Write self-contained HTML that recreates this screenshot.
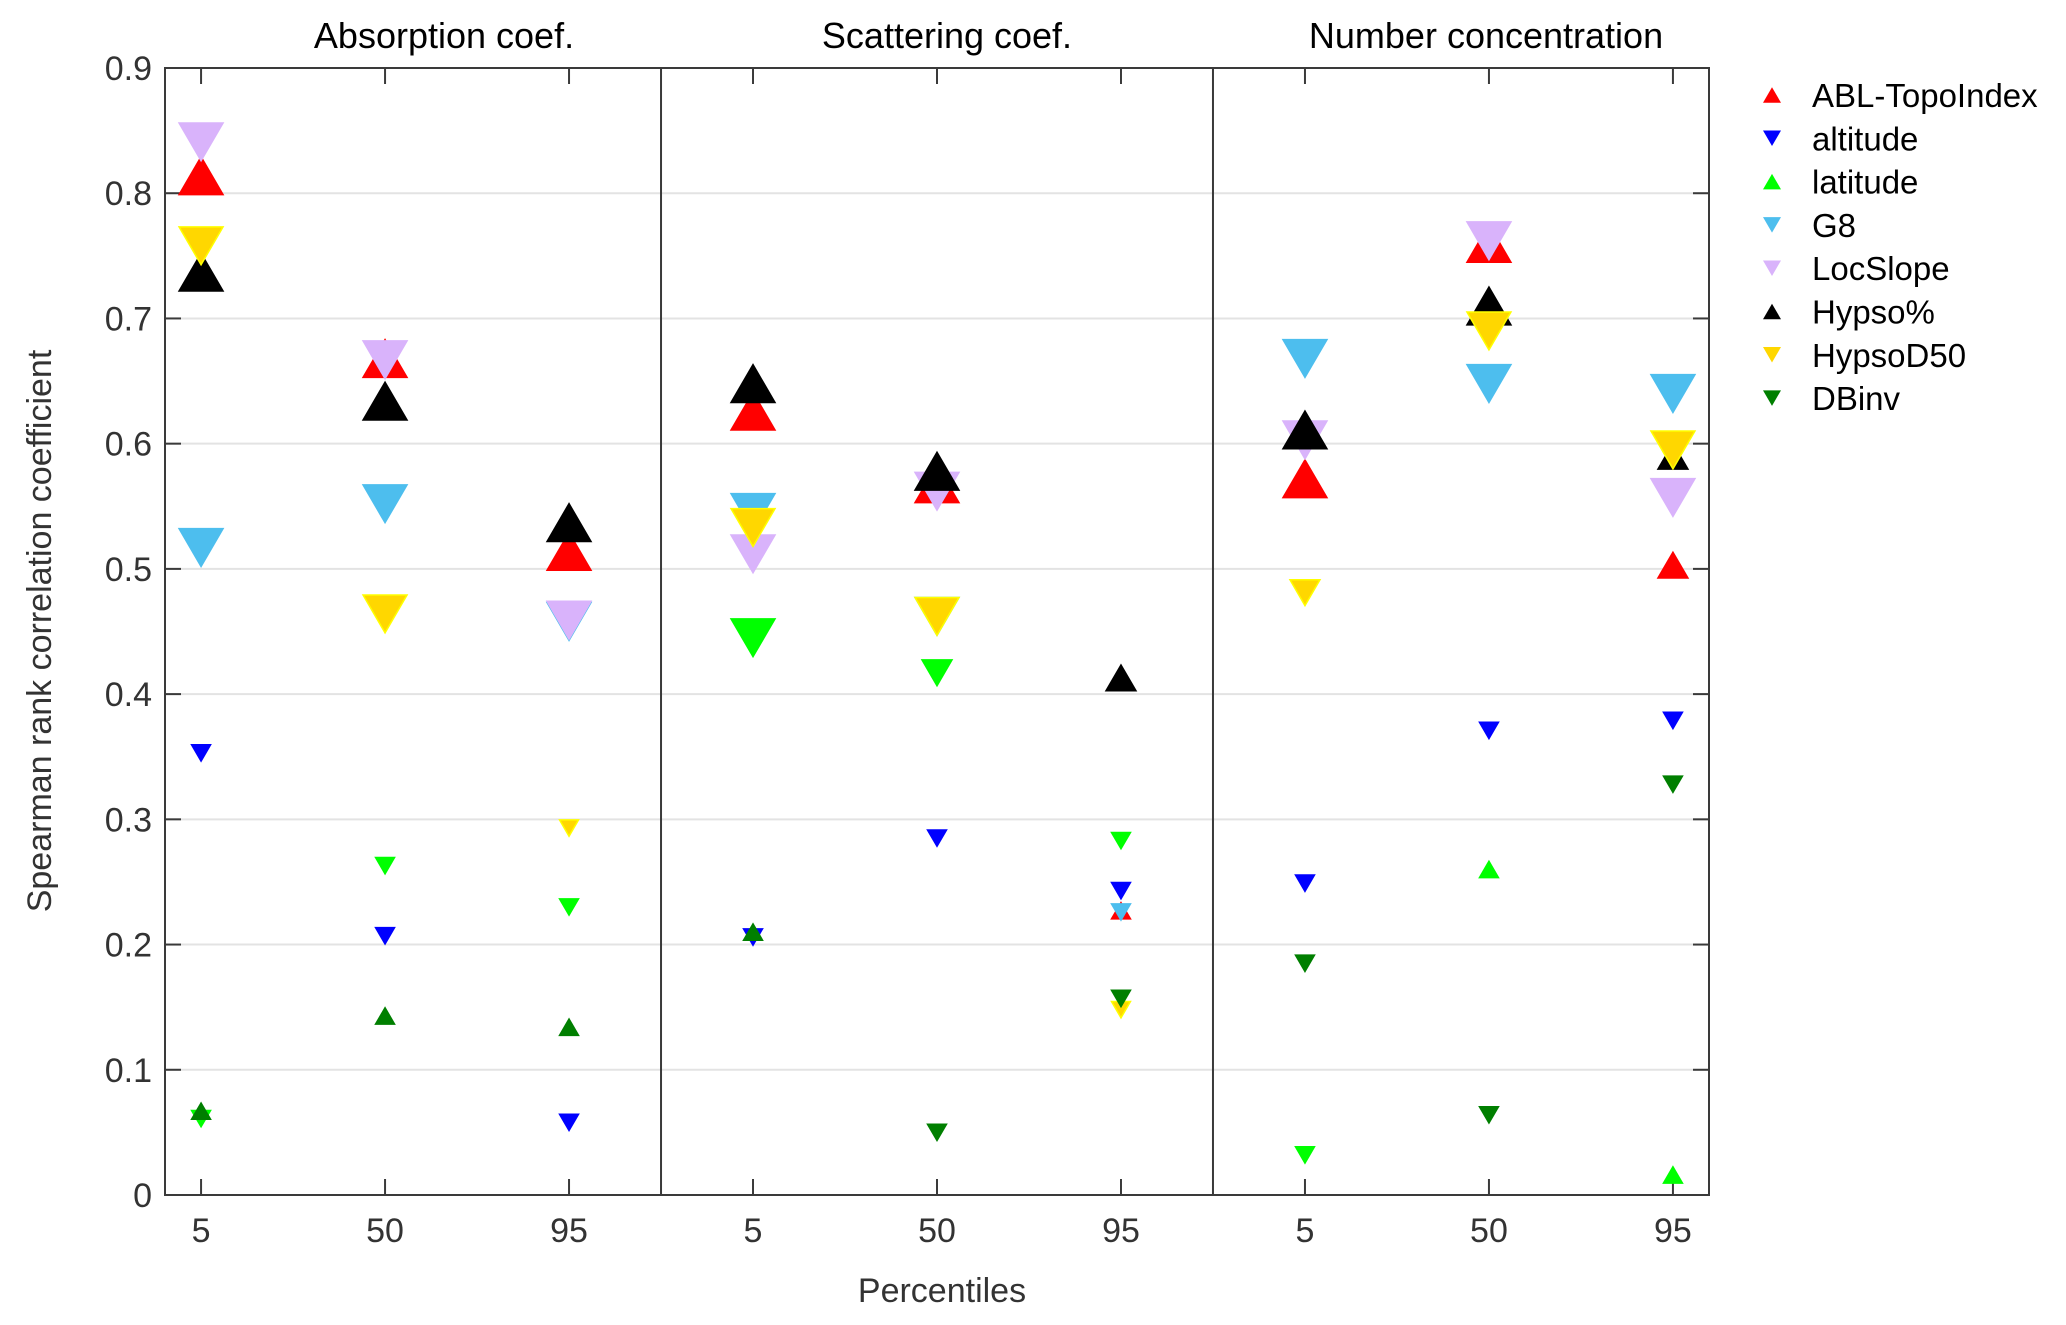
<!DOCTYPE html>
<html><head><meta charset="utf-8"><style>
html,body{margin:0;padding:0;background:#fff;}
svg{display:block;font-family:"Liberation Sans",Arial,sans-serif;}
</style></head><body>
<svg id="chart" width="2066" height="1325" viewBox="0 0 2066 1325" xmlns="http://www.w3.org/2000/svg">
<g id="grid"></g>
<g id="axes"></g>
<g id="marks"></g>
<g id="legend"></g>
</svg>
<script>
const xTickLabels = ["5","50","95","5","50","95","5","50","95"];
const panelTitles = ["Absorption coef.","Scattering coef.","Number concentration"];
const yTicks = [0,0.1,0.2,0.3,0.4,0.5,0.6,0.7,0.8,0.9];
const seriesNames = ["ABL-TopoIndex","altitude","latitude","G8","LocSlope","Hypso%","HypsoD50","DBinv"];
const seriesColors = ["#ff0000","#0000ff","#00ff00","#4dbeee","#d9b3fb","#000000","#ffd700","#007f00"];
const legendDir = [1,-1,1,-1,-1,1,-1,-1];
// values per series at the 9 x positions (null = no marker)
const vABL      = [0.814,0.668,0.514,0.626,0.568,0.227,0.572,0.760,0.503];
const vAltitude = [0.353,0.207,0.058,0.206,0.285,0.243,0.249,0.371,0.379];
const vLatitude = [0.061,0.263,0.230,0.445,0.417,0.283,0.032,0.260,0.016];
const vG8       = [0.517,0.552,0.458,0.545,0.462,0.226,0.668,0.648,0.640];
const vLocSlope = [0.841,0.667,0.459,0.512,0.562,null,0.603,0.762,0.557];
const vHypso    = [0.737,0.634,0.537,0.648,0.578,0.413,0.611,0.710,0.590];
const vHypsoD50 = [0.758,0.464,0.293,0.533,0.462,0.148,0.481,0.690,0.595];
const vDBinv    = [0.067,0.143,0.134,0.210,0.050,0.157,0.185,0.064,0.328];
// marker direction: 1 = up triangle, -1 = down triangle
const dABL      = [1,1,1,1,1,1,1,1,1];
const dAltitude = [-1,-1,-1,-1,-1,-1,-1,-1,-1];
const dLatitude = [-1,-1,-1,-1,-1,-1,-1,1,1];
const dG8       = [-1,-1,-1,-1,-1,-1,-1,-1,-1];
const dLocSlope = [-1,-1,-1,-1,-1,-1,-1,-1,-1];
const dHypso    = [1,1,1,1,1,1,1,1,1];
const dHypsoD50 = [-1,-1,-1,-1,-1,-1,-1,-1,-1];
const dDBinv    = [1,1,1,1,-1,-1,-1,-1,-1];
// marker size class: 2 = large, 1 = medium, 0 = small
const sABL      = [2,2,2,2,2,0,2,2,1];
const sAltitude = [0,0,0,0,0,0,0,0,0];
const sLatitude = [0,0,0,2,1,0,0,0,0];
const sG8       = [2,2,2,2,2,0,2,2,2];
const sLocSlope = [2,2,2,2,2,0,2,2,2];
const sHypso    = [2,2,2,2,2,1,2,2,1];
const sHypsoD50 = [2,2,0,2,2,0,1,2,2];
const sDBinv    = [0,0,0,0,0,0,0,0,0];

const allV=[vABL,vAltitude,vLatitude,vG8,vLocSlope,vHypso,vHypsoD50,vDBinv];
const allD=[dABL,dAltitude,dLatitude,dG8,dLocSlope,dHypso,dHypsoD50,dDBinv];
const allS=[sABL,sAltitude,sLatitude,sG8,sLocSlope,sHypso,sHypsoD50,sDBinv];

const NS="http://www.w3.org/2000/svg";
const L=165,R=1709,T=68,B=1195;
const xMin=0.804,xMax=9.196,yMin=0,yMax=0.9;
const AX='#3a3a3a';
function xs(i){return L+(i-xMin)/(xMax-xMin)*(R-L);}
function ys(v){return B-(v-yMin)/(yMax-yMin)*(B-T);}
function mk(tag,attrs,parent){const e=document.createElementNS(NS,tag);for(const k in attrs)e.setAttribute(k,attrs[k]);parent.appendChild(e);return e;}
const grid=document.getElementById('grid'),axes=document.getElementById('axes'),marks=document.getElementById('marks'),legend=document.getElementById('legend');

yTicks.forEach(t=>{
  if(t>yMin&&t<yMax){const g=mk('line',{x1:L,x2:R,y1:ys(t),y2:ys(t),stroke:'#e3e3e3','stroke-width':2},grid);
  
  }
  const tl=mk('line',{x1:L,x2:L+16,y1:ys(t),y2:ys(t),stroke:AX,'stroke-width':2},axes);
  
  
  const tr=mk('line',{x1:R-16,x2:R,y1:ys(t),y2:ys(t),stroke:AX,'stroke-width':2},axes);
  
  
  const tx=mk('text',{x:152,y:ys(t)+12,'text-anchor':'end','font-size':34,fill:'#333'},axes);
  tx.textContent=String(t);
  
  
});
xTickLabels.forEach((lab,i)=>{
  const x=xs(i+1);
  const a=mk('line',{x1:x,x2:x,y1:B,y2:B-16,stroke:AX,'stroke-width':2},axes);
  
  
  const b=mk('line',{x1:x,x2:x,y1:T,y2:T+16,stroke:AX,'stroke-width':2},axes);
  
  
  const tx=mk('text',{x:x,y:1242,'text-anchor':'middle','font-size':34,fill:'#333'},axes);
  tx.textContent=lab;
  
  
});
[3.5,6.5].forEach(p=>{
  const s=mk('line',{x1:xs(p),x2:xs(p),y1:T,y2:B,stroke:AX,'stroke-width':2},axes);
  
  
});
const box=mk('rect',{x:L,y:T,width:R-L,height:B-T,fill:'none',stroke:AX,'stroke-width':2},axes);


const titleX=[444,947,1486];
panelTitles.forEach((t,k)=>{
  const tx=mk('text',{x:titleX[k],y:48,'text-anchor':'middle','font-size':36,fill:'#000'},axes);
  tx.textContent=t;
  
  
});
const yl=mk('text',{x:0,y:0,'text-anchor':'middle','font-size':34,fill:'#333',transform:'translate(51,631) rotate(-90)'},axes);
yl.textContent='Spearman rank correlation coefficient';


const xl=mk('text',{x:942,y:1302,'text-anchor':'middle','font-size':34,fill:'#333'},axes);
xl.textContent='Percentiles';



const widths=[19,30,44];
function tri(cx,cy,w,dir){const h=w*0.86;
  if(dir>0)return `${cx-w/2},${cy+h/2} ${cx+w/2},${cy+h/2} ${cx},${cy-h/2}`;
  return `${cx-w/2},${cy-h/2} ${cx+w/2},${cy-h/2} ${cx},${cy+h/2}`;}
allV.forEach((vals,si)=>{
  vals.forEach((v,i)=>{
    if(v===null)return;
    const d=allD[si][i];
    const w=widths[allS[si][i]];
    const p=mk('polygon',{points:tri(xs(i+1),ys(v),w,d),fill:seriesColors[si],stroke:si===6?'#ffff00':seriesColors[si],'stroke-width':1.5},marks);
    
    
  });
});
seriesNames.forEach((n,si)=>{
  const y=95+si*43.3;
  const p=mk('polygon',{points:tri(1772,y,18,legendDir[si]),fill:seriesColors[si]},legend);
  
  
  const tx=mk('text',{x:1812,y:y+12,'font-size':33,fill:'#000'},legend);
  tx.textContent=n;
  
  
});
</script>
</body></html>
